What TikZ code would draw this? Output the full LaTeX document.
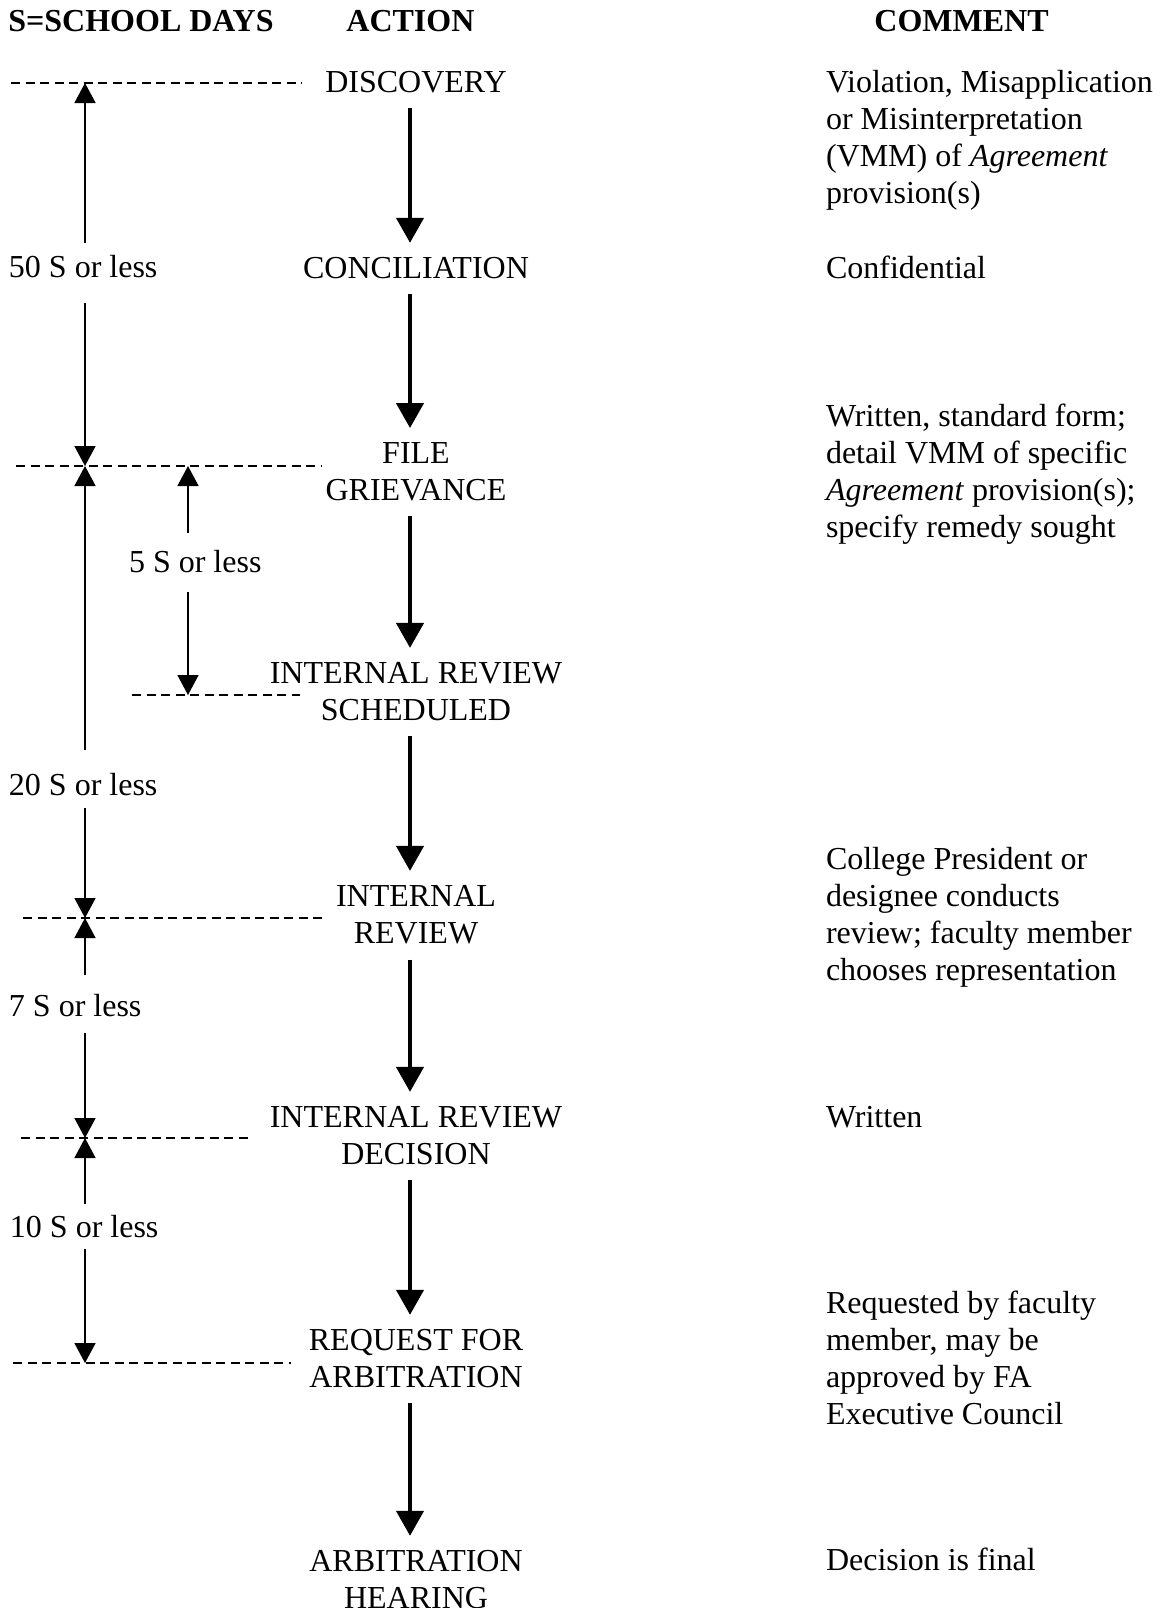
\documentclass[tikz,border=0pt]{standalone}
\usepackage{fontspec}
\setmainfont{Liberation Serif}
\usetikzlibrary{positioning, arrows.meta}

\begin{document}
\begin{tikzpicture}
[
    x=0.5pt, y=-0.5pt, auto,
    % The strategy is to create nodes with names:
    % Action nodes are named A-0 ... A-7, comment nodes C-0 ... C-6
    % Day labels are named D-0 ... D-4, time marks on dashed lines M-0 ... M-6
    % Multi-line nodes are placed at the baseline of their last line
    font=\fontsize{16}{18.5}\selectfont
]

%=================================== Start ===================================
\tikzstyle{actnode}   = [align=center, inner sep=0pt, outer sep=0pt, anchor=base]
\tikzstyle{notenode}  = [align=left, inner sep=0pt, outer sep=0pt, anchor=base west]
\tikzstyle{headnode}  = [inner sep=0pt, anchor=base west, font=\fontsize{16}{18.5}\selectfont\bfseries]
\tikzstyle{daysnode}  = [inner sep=0pt, outer sep=0pt, anchor=base west]
\tikzstyle{flowarrow} = [-{Triangle[length=12.5pt, width=13.5pt]}, line width=2.2pt,
                         shorten <=8pt, shorten >=7pt]
\tikzstyle{spanarrow} = [-{Triangle[length=10pt, width=10.5pt]}, line width=0.8pt]
\tikzstyle{limitline} = [dash pattern=on 4.5pt off 2.75pt, line width=0.75pt]

\useasboundingbox (0,0) rectangle (1161,1608);

{
    % Column heads
    \node[headnode] (H-0) at (8,31)   {S=SCHOOL DAYS};
    \node[headnode] (H-1) at (346,31) {ACTION};
    \node[headnode] (H-2) at (874,31) {COMMENT};

    % Draw actions
    \foreach \i / \y / \txt in {0/92/DISCOVERY, 1/278/CONCILIATION,
                               2/500/FILE\\GRIEVANCE, 3/720/INTERNAL REVIEW\\SCHEDULED,
                               4/943/INTERNAL\\REVIEW, 5/1164/INTERNAL REVIEW\\DECISION,
                               6/1387/REQUEST FOR\\ARBITRATION, 7/1608/ARBITRATION\\HEARING}
        \node[actnode] (A-\i) at (416,\y) {\txt};

    % Draw comments
    \foreach \i / \y / \txt in {
        0/203/{Violation, Misapplication\\or Misinterpretation\\(VMM) of \textit{Agreement}\\provision(s)},
        1/278/Confidential,
        2/537/{Written, standard form;\\detail VMM of specific\\\textit{Agreement} provision(s);\\specify remedy sought},
        3/980/{College President or\\designee conducts\\review; faculty member\\chooses representation},
        4/1127/Written,
        5/1424/{Requested by faculty\\member, may be\\approved by FA\\Executive Council},
        6/1570/Decision is final}
        \node[notenode] (C-\i) at (826,\y) {\txt};

    % Connect actions
    \foreach \a / \b in {0/1, 1/2, 2/3, 3/4, 4/5, 5/6, 6/7}
        \draw[flowarrow] ([xshift=-3pt]A-\a.south) -- ([xshift=-3pt]A-\b.north);

    % Dashed limit lines
    \foreach \i / \y / \xa / \xb in {0/83/11/302, 1/466/16/322, 2/695/132/300,
                                    3/918/23/327, 4/1138/21/251, 5/1363/13/291}
        \draw[limitline] (\xa,\y) coordinate (L-\i) -- (\xb,\y) coordinate (R-\i);

    % Time marks on the limit lines
    \foreach \i / \x / \y in {0/85/83, 1/85/466, 2/188/695, 3/85/918,
                              4/85/1138, 5/85/1363, 6/188/466}
        \coordinate (M-\i) at (\x,\y);

    % Day labels
    \foreach \i / \x / \y / \n in {0/9/277/50, 1/129/572/5, 2/9/795/20,
                                  3/9/1016/7, 4/10/1237/10}
        \node[daysnode] (D-\i) at (\x,\y) {\n{} S or less};

    % Spans: label / upper mark / gap / lower mark / gap
    \foreach \d / \up / \gu / \dn / \gd in {0/0/6/1/13, 1/6/8.5/2/10, 2/1/11.5/3/6.5,
                                           3/3/9.5/4/8.5, 4/4/5.5/5/6}
    {
        \draw[spanarrow, shorten <=\gu pt] (D-\d.north -| M-\up) -- (M-\up);
        \draw[spanarrow, shorten <=\gd pt] (D-\d.south -| M-\dn) -- (M-\dn);
    }
}
%==================================== END ====================================

\end{tikzpicture}
\end{document}
